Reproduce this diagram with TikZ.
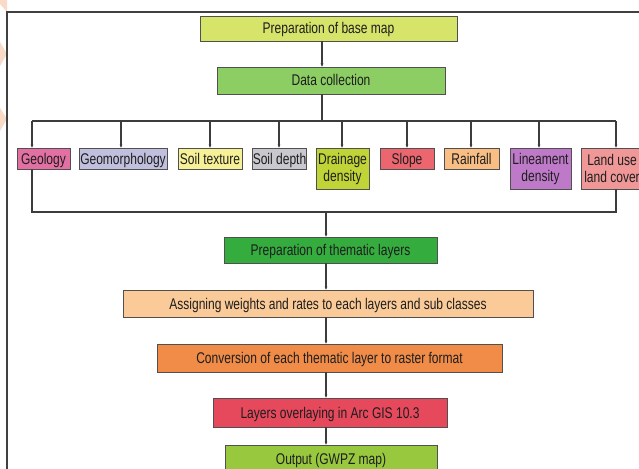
\documentclass[tikz,border=0pt]{standalone}
\usepackage{fontspec}
\setmainfont{Liberation Sans}[FakeStretch=0.775]
\usetikzlibrary{arrows.meta}
\definecolor{boxline}{RGB}{80,80,80}
\definecolor{lineclr}{RGB}{60,60,60}
\definecolor{txt}{RGB}{30,30,30}
\definecolor{deco}{RGB}{248,218,198}
\definecolor{cBase}{RGB}{214,228,106}
\definecolor{cData}{RGB}{140,206,100}
\definecolor{cGeo}{RGB}{226,112,162}
\definecolor{cGeom}{RGB}{192,192,222}
\definecolor{cSoilT}{RGB}{246,240,150}
\definecolor{cSoilD}{RGB}{200,200,206}
\definecolor{cDrain}{RGB}{192,212,55}
\definecolor{cSlope}{RGB}{236,102,112}
\definecolor{cRain}{RGB}{248,190,132}
\definecolor{cLin}{RGB}{190,122,200}
\definecolor{cLand}{RGB}{240,152,152}
\definecolor{cThem}{RGB}{52,172,62}
\definecolor{cAssign}{RGB}{250,202,152}
\definecolor{cConv}{RGB}{240,140,72}
\definecolor{cOver}{RGB}{230,72,92}
\definecolor{cOut}{RGB}{152,200,62}
\begin{document}
\begin{tikzpicture}[x=1pt,y=-1pt,
  box/.style={draw=boxline, line width=0.8pt, inner sep=0pt, outer sep=0pt,
    font=\fontsize{15.5}{17}\selectfont, text=txt, text height=11pt, text depth=0pt},
  box2/.style={draw=boxline, line width=0.8pt, inner sep=0pt, outer sep=0pt,
    font=\fontsize{15.5}{17}\selectfont, text=txt, align=center},
  conn/.style={draw=lineclr, line width=1.2pt},
  arr/.style={conn, -{Latex[length=3.5pt,width=3.2pt]}},
  framel/.style={draw=black!75, line width=1.4pt}]
\useasboundingbox (0,0) rectangle (639,468);
\clip (0,0) rectangle (639,468);
% decorative marks at the left edge
\fill[deco] (0,0) -- (7,0) -- (7,12) -- (0,4) -- cycle;
\fill[deco] (0,42) -- (7,54) -- (0,66) -- cycle;
\fill[deco] (0,108) -- (7,119) -- (0,131) -- cycle;
% frame
\draw[framel] (7,470) -- (7,12) -- (641,12);
% top boxes
\node[box, fill=cBase, minimum width=257pt, minimum height=25pt] (base) at (328.5,28.5) {Preparation of base map};
\node[box, fill=cData, minimum width=228pt, minimum height=27pt] (data) at (331,80.5) {Data collection};
% parameter boxes
\node[box, fill=cGeo, minimum width=53pt, minimum height=21pt] (geo) at (43.5,158.5) {Geology};
\node[box, fill=cGeom, minimum width=88pt, minimum height=21pt] (geom) at (123,158.5) {Geomorphology};
\node[box, fill=cSoilT, minimum width=64pt, minimum height=21pt] (soilt) at (210,158.5) {Soil texture};
\node[box, fill=cSoilD, minimum width=53pt, minimum height=21pt] (soild) at (279.5,158.5) {Soil depth};
\node[box2, fill=cDrain, minimum width=53pt, minimum height=41pt] (drain) at (342.5,168.5) {Drainage\\density};
\node[box, fill=cSlope, minimum width=54pt, minimum height=21pt] (slope) at (407,158.5) {Slope};
\node[box, fill=cRain, minimum width=55pt, minimum height=21pt] (rain) at (471.5,158.5) {Rainfall};
\node[box2, fill=cLin, minimum width=61pt, minimum height=41pt] (lin) at (540.5,168.5) {Lineament\\density};
\node[box2, fill=cLand, minimum width=62pt, minimum height=41pt] (land) at (612,168.5) {Land use\\land cover};
% lower boxes
\node[box, fill=cThem, minimum width=213pt, minimum height=26pt] (them) at (330.5,250) {Preparation of thematic layers};
\node[box, fill=cAssign, minimum width=410pt, minimum height=27pt] (assign) at (328,303.5) {Assigning weights and rates to each layers and sub classes};
\node[box, fill=cConv, minimum width=345pt, minimum height=28pt] (conv) at (329.5,358) {Conversion of each thematic layer to raster format};
\node[box, fill=cOver, minimum width=234pt, minimum height=29pt] (over) at (330,412.5) {Layers overlaying in Arc GIS 10.3};
\node[box, fill=cOut, minimum width=212pt, minimum height=27pt] (out) at (331,458.5) {Output (GWPZ map)};
% bus coordinates
\coordinate (t1) at (322,121);
\coordinate (b1) at (32,121);
\coordinate (b2) at (121,121);
\coordinate (b3) at (210,121);
\coordinate (b4) at (279,121);
\coordinate (b5) at (342,121);
\coordinate (b6) at (407,121);
\coordinate (b7) at (471,121);
\coordinate (b8) at (539,121);
\coordinate (b9) at (616,121);
\coordinate (bl) at (32,212);
\coordinate (br) at (616,212);
\coordinate (t2) at (326,212);
% connectors
\draw[arr] (base.south -| t1) -- (data.north -| t1);
\draw[conn] (data.south -| t1) -- (t1);
\draw[conn] (b1) -- (b9);
\draw[arr] (b1) -- (b1 |- geo.north);
\draw[arr] (b2) -- (b2 |- geom.north);
\draw[arr] (b3) -- (b3 |- soilt.north);
\draw[arr] (b4) -- (b4 |- soild.north);
\draw[arr] (b5) -- (b5 |- drain.north);
\draw[arr] (b6) -- (b6 |- slope.north);
\draw[arr] (b7) -- (b7 |- rain.north);
\draw[arr] (b8) -- (b8 |- lin.north);
\draw[arr] (b9) -- (b9 |- land.north);
\draw[conn] (b1 |- geo.south) -- (bl) -- (br) -- (b9 |- land.south);
\draw[arr] (t2) -- (t2 |- them.north);
\draw[arr] (them.south -| t2) -- (assign.north -| t2);
\draw[arr] (assign.south -| t2) -- (conv.north -| t2);
\draw[arr] (conv.south -| t2) -- (over.north -| t2);
\draw[arr] (over.south -| t2) -- (out.north -| t2);
\end{tikzpicture}
\end{document}
